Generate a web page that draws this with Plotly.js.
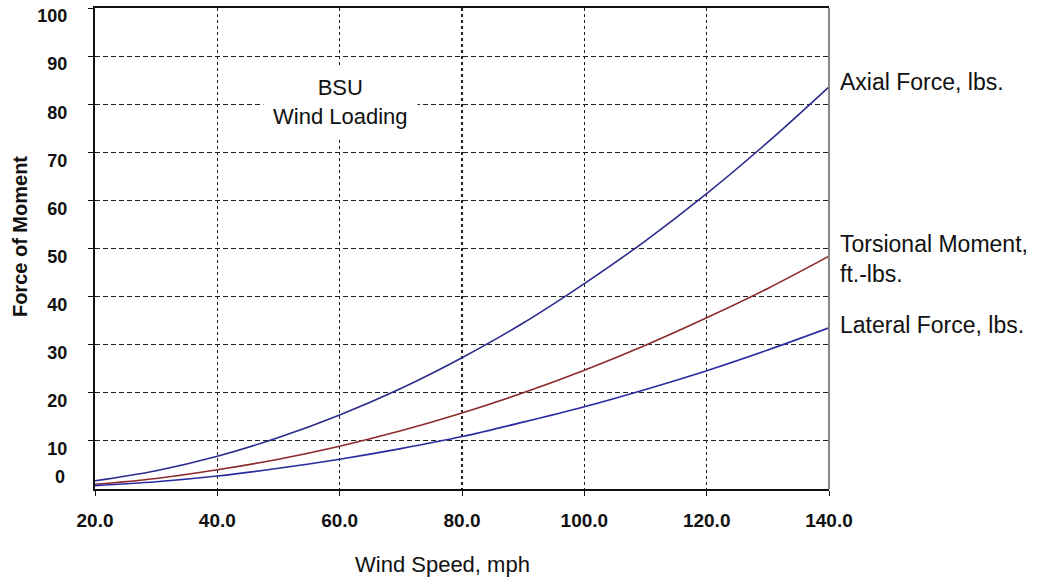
<!DOCTYPE html>
<html>
<head>
<meta charset="utf-8">
<script src="https://cdn.plot.ly/plotly-3.0.1.min.js"></script>
<style>html,body{margin:0;padding:0;background:#fff;}#chart{width:1050px;height:580px;}</style>
</head>
<body>
<div id="chart"></div>
<script>
const windSpeed = [20, 30, 40, 50, 60, 70, 80, 90, 100, 110, 120, 130, 140];
const axialForce = [1.7, 3.8, 6.8, 10.7, 15.4, 20.9, 27.3, 34.5, 42.7, 51.6, 61.4, 72.1, 83.6];
const torsionalMoment = [1.0, 2.2, 4.0, 6.2, 8.9, 12.1, 15.8, 20.0, 24.7, 29.9, 35.6, 41.7, 48.4];
const lateralForce = [0.7, 1.5, 2.7, 4.3, 6.2, 8.4, 10.9, 13.9, 17.1, 20.7, 24.6, 28.9, 33.5];
const xTicks = [20, 40, 60, 80, 100, 120, 140];
const xTickLabels = ["20.0", "40.0", "60.0", "80.0", "100.0", "120.0", "140.0"];
const yTicks = [10, 20, 30, 40, 50, 60, 70, 80, 90, 100];
const yZeroLabel = "0";
const seriesLabels = ["Axial Force, lbs.", "Torsional Moment,<br>ft.-lbs.", "Lateral Force, lbs."];
const chartNote = "BSU<br>Wind Loading";
const xTitle = "Wind Speed, mph";
const yTitle = "Force of Moment";

const font = "Liberation Sans, Arial, sans-serif";
const traces = [
  {x: windSpeed, y: axialForce, name: "Axial Force", mode: "lines", line: {color: "#2b2b8c", width: 1.6, shape: "spline"}},
  {x: windSpeed, y: torsionalMoment, name: "Torsional Moment", mode: "lines", line: {color: "#8c2a2a", width: 1.6, shape: "spline"}},
  {x: windSpeed, y: lateralForce, name: "Lateral Force", mode: "lines", line: {color: "#2a2aa0", width: 1.6, shape: "spline"}}
];
const ends = [axialForce, torsionalMoment, lateralForce].map(a => a[a.length - 1]);
const labelYShift = [5, -3, 3];
const annotations = seriesLabels.map((t, i) => ({
  x: 1, xref: "paper", y: ends[i], yref: "y", text: t, showarrow: false,
  xanchor: "left", yanchor: "middle", xshift: 9, yshift: labelYShift[i],
  align: "left", font: {family: font, size: 23, color: "#111"}
}));
annotations.push({
  x: 0.334, xref: "paper", y: 0.805, yref: "paper", xanchor: "center", yanchor: "middle",
  text: chartNote, showarrow: false, borderpad: 9,
  align: "center", font: {family: font, size: 22, color: "#111"}, bgcolor: "#fff"
});
annotations.push({
  x: 0, xref: "paper", y: 0, yref: "y", xanchor: "right", yanchor: "middle",
  text: yZeroLabel, showarrow: false, xshift: -28, yshift: 12,
  font: {family: font, size: 18, weight: "bold", color: "#111"}
});
annotations.push({
  x: 0.474, xref: "paper", y: -0.158, yref: "paper", xanchor: "center", yanchor: "middle",
  text: xTitle, showarrow: false, font: {family: font, size: 22, color: "#111"}
});
annotations.push({
  x: -0.102, xref: "paper", y: 0.524, yref: "paper", xanchor: "center", yanchor: "middle",
  text: yTitle, showarrow: false, textangle: -90,
  font: {family: font, size: 20, weight: "bold", color: "#111"}
});

const layout = {
  width: 1050, height: 580,
  margin: {l: 95, r: 221, t: 8, b: 91},
  paper_bgcolor: "#fff", plot_bgcolor: "#fff",
  showlegend: false,
  font: {family: font, color: "#111"},
  xaxis: {
    range: [20, 140], tickvals: xTicks, ticktext: xTickLabels,
    showgrid: true, gridcolor: "#222", griddash: "3px,3px", gridwidth: 1.6,
    showline: true, linecolor: "#111", linewidth: 2, mirror: true,
    ticks: "outside", ticklen: 5, tickcolor: "#111",
    ticklabelstandoff: 8,
    tickfont: {family: font, size: 19, weight: "bold", color: "#111"},
    zeroline: false
  },
  yaxis: {
    range: [0, 100], tickvals: yTicks,
    showgrid: true, gridcolor: "#222", griddash: "5px,3px", gridwidth: 1,
    showline: true, linecolor: "#111", linewidth: 2,
    ticks: "outside", ticklen: 5, tickcolor: "#111",
    ticklabelstandoff: 17, ticklabelshift: 8,
    tickfont: {family: font, size: 18, weight: "bold", color: "#111"},
    zeroline: false
  },
  shapes: [
    {type: "line", xref: "paper", yref: "paper", x0: 1, x1: 1, y0: 0, y1: 1, line: {color: "#888", width: 2}}
  ],
  annotations: annotations
};
Plotly.newPlot("chart", traces, layout, {displayModeBar: false, staticPlot: true});
</script>
</body>
</html>
